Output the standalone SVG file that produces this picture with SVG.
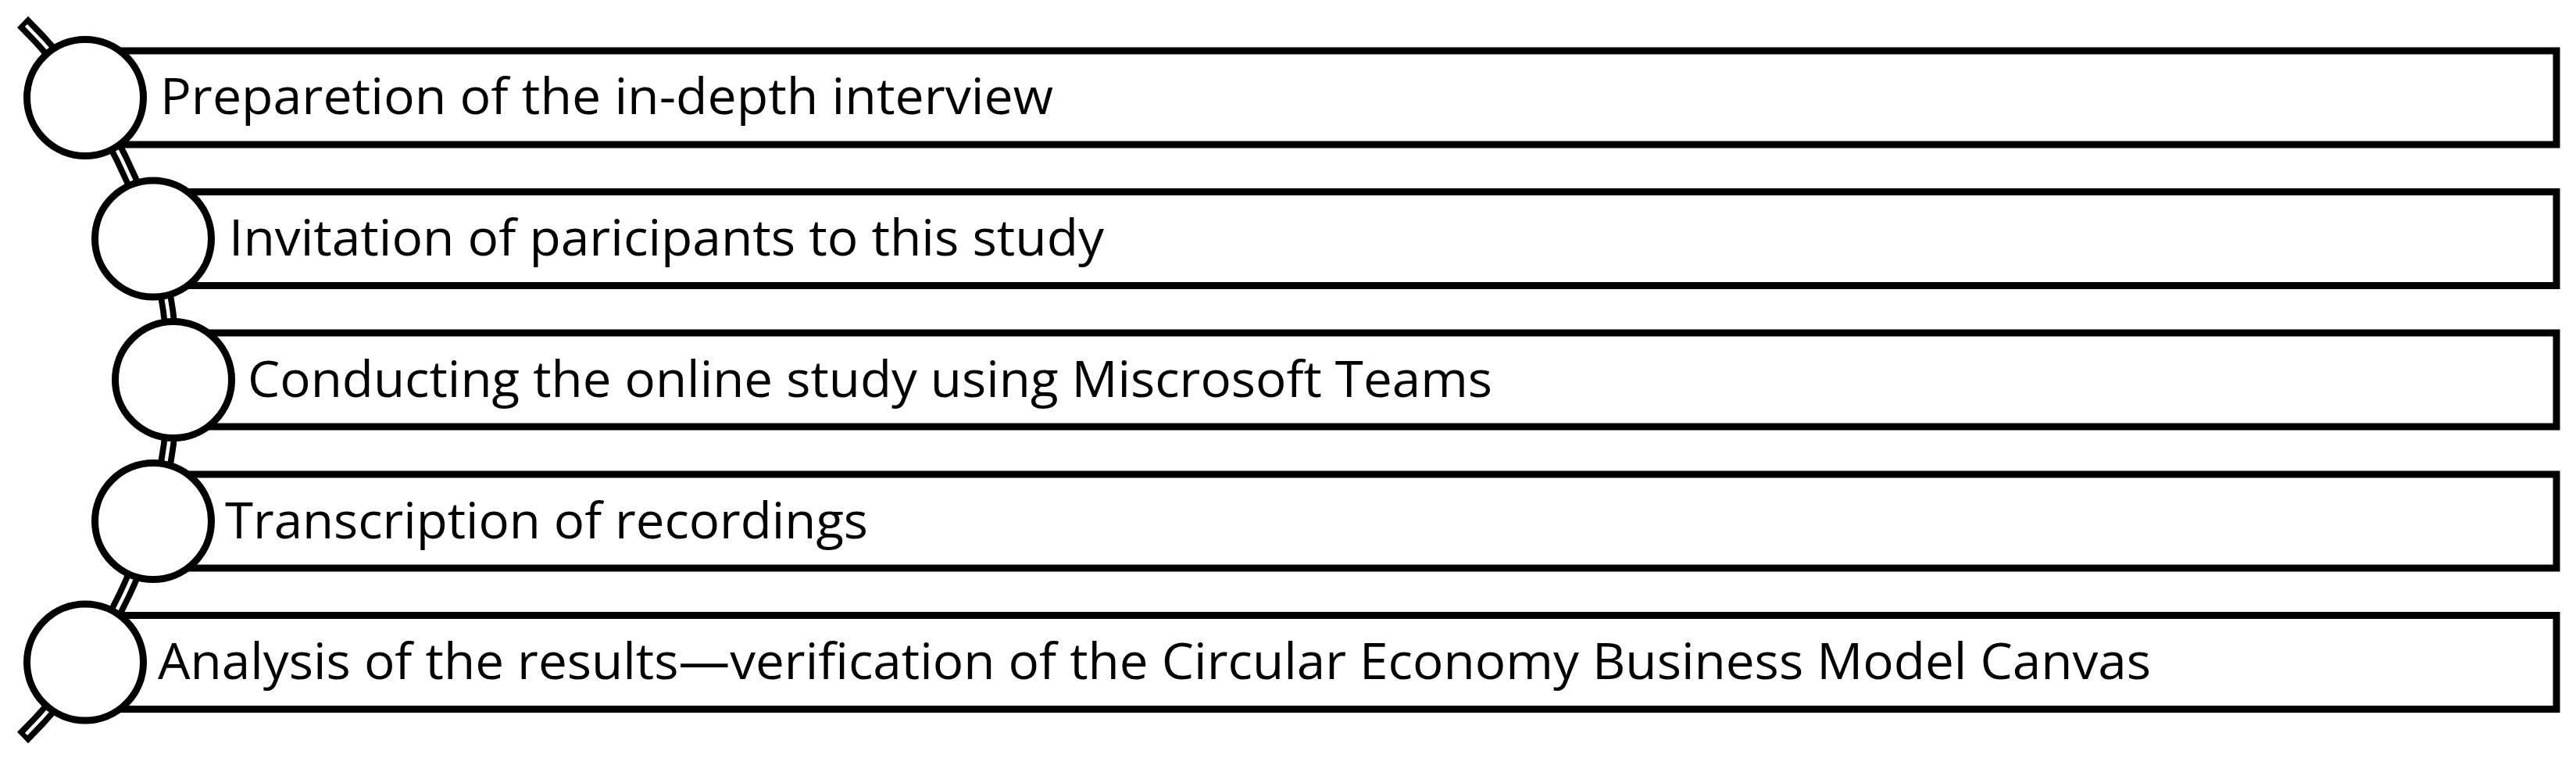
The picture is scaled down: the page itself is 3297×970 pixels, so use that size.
<svg xmlns="http://www.w3.org/2000/svg" width="3297" height="970" viewBox="0 0 3297 970">
<style>
.box{fill:#fff;stroke:#000;stroke-width:9}
.dot{fill:#fff;stroke:#000;stroke-width:9}
.lbl{font-family:"Open Sans","Noto Sans","Liberation Sans",sans-serif;font-size:64px;fill:#000}
.arcOuter{fill:none;stroke:#000;stroke-width:20}
.arcInner{fill:none;stroke:#fff;stroke-width:4.5}
</style>
<rect width="3297" height="970" fill="#fff"/>
<g id="boxes">
<rect class="box" x="109" y="65" width="3163" height="120"/>
<rect class="box" x="196" y="245.5" width="3076" height="120"/>
<rect class="box" x="222" y="426" width="3050" height="120"/>
<rect class="box" x="196" y="607" width="3076" height="120"/>
<rect class="box" x="109" y="787.5" width="3163" height="120"/>
</g>
<g id="connectors">
<path class="arcOuter" d="M 29 28 A 642 642 0 0 1 29 944"/>
<path class="arcInner" d="M 33.5 32.5 A 642 642 0 0 1 33.5 939.5"/>
</g>
<g id="node1">
<circle class="dot" cx="109" cy="125" r="74.5"/>
<text class="lbl" x="205" y="146" textLength="1143" lengthAdjust="spacingAndGlyphs">Preparetion of the in-depth interview</text>
</g>
<g id="node2">
<circle class="dot" cx="196" cy="305.5" r="74.5"/>
<text class="lbl" x="293" y="327" textLength="1120" lengthAdjust="spacingAndGlyphs">Invitation of paricipants to this study</text>
</g>
<g id="node3">
<circle class="dot" cx="222" cy="486" r="74.5"/>
<text class="lbl" x="317" y="508" textLength="1593" lengthAdjust="spacingAndGlyphs">Conducting the online study using Miscrosoft Teams</text>
</g>
<g id="node4">
<circle class="dot" cx="196" cy="667" r="74.5"/>
<text class="lbl" x="288" y="689" textLength="823" lengthAdjust="spacingAndGlyphs">Transcription of recordings</text>
</g>
<g id="node5">
<circle class="dot" cx="109" cy="847.5" r="74.5"/>
<text class="lbl" x="202" y="869" textLength="2551" lengthAdjust="spacingAndGlyphs">Analysis of the results—verification of the Circular Economy Business Model Canvas</text>
</g>
</svg>
